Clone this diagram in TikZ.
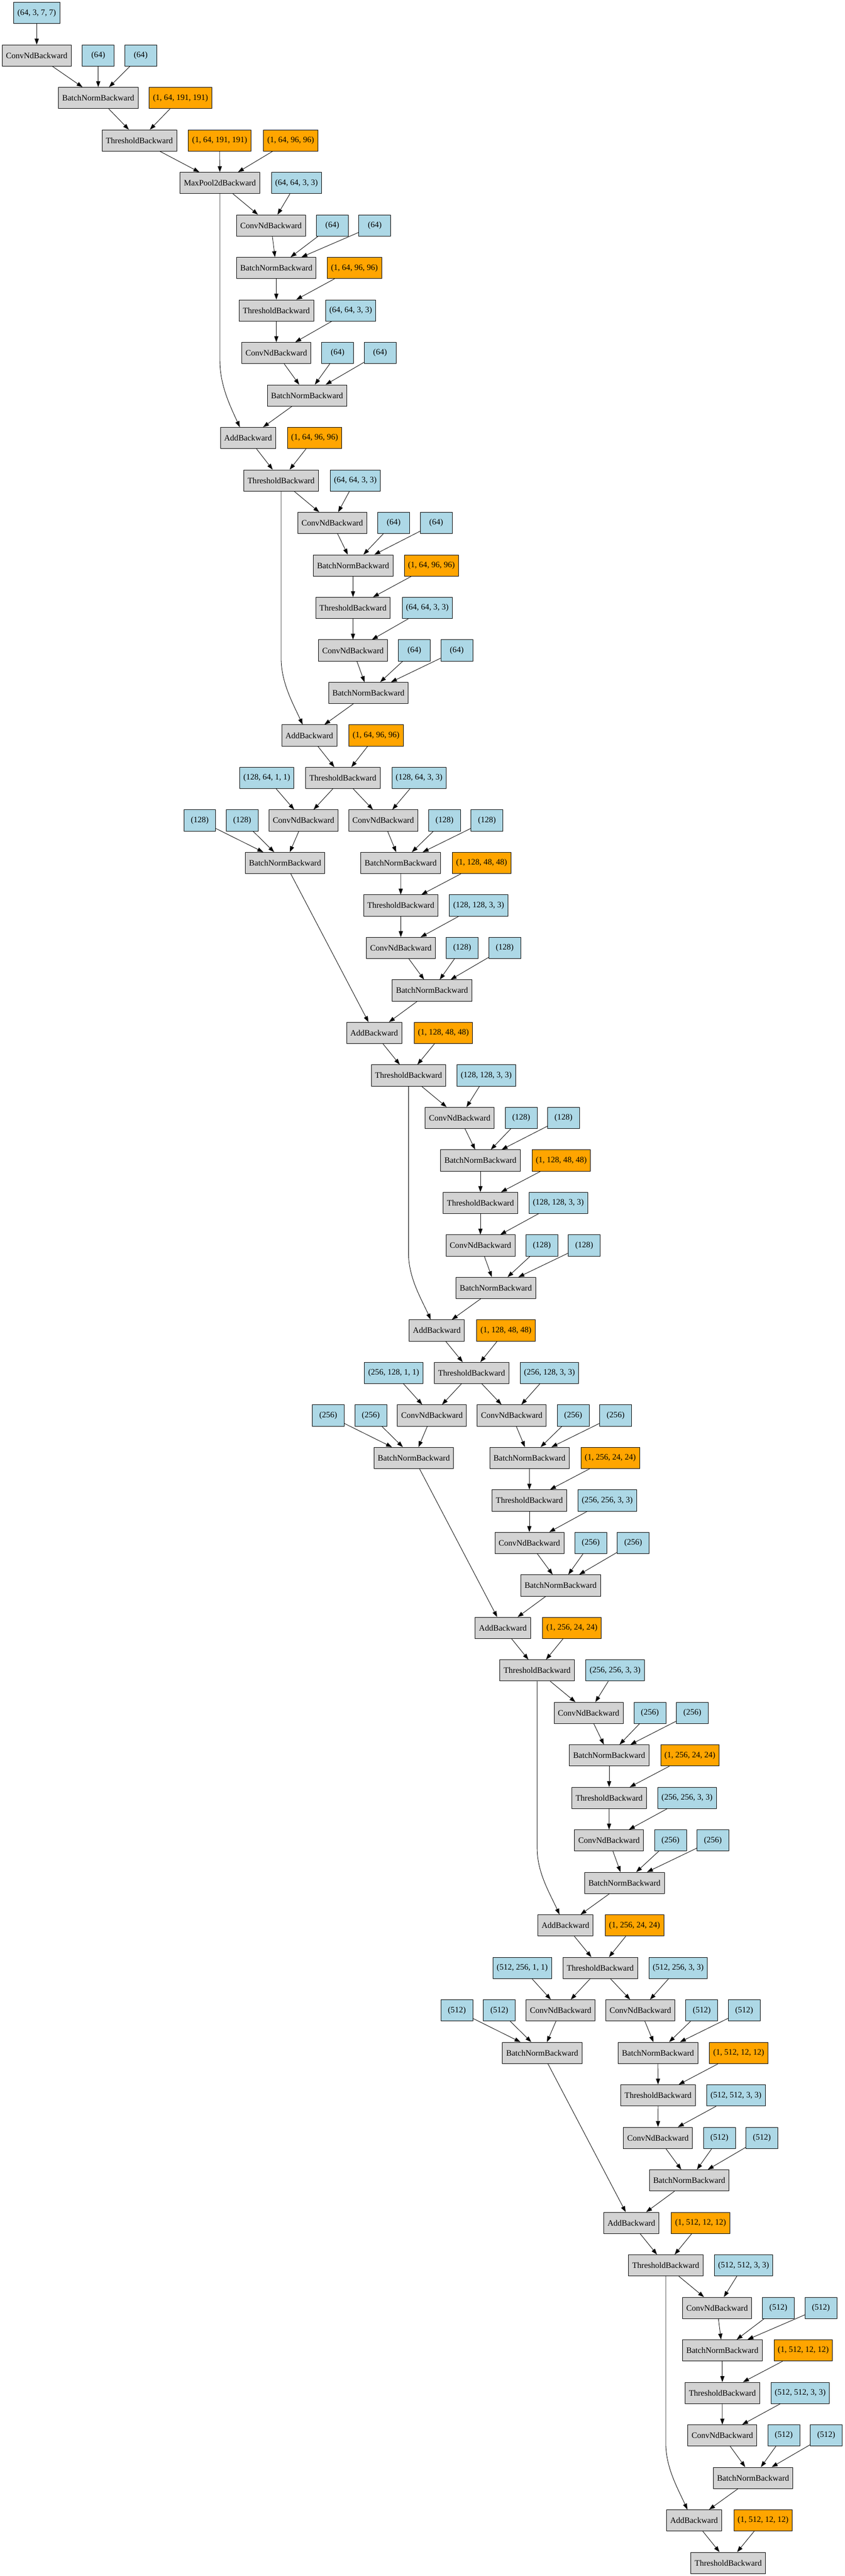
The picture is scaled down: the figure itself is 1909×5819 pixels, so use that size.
\documentclass[tikz,border=0pt]{standalone}
\usepackage{fontspec}
\setmainfont{Liberation Serif}
\usetikzlibrary{arrows.meta,calc}
\definecolor{lgray}{HTML}{D3D3D3}
\definecolor{lblue}{HTML}{ADD8E6}
\definecolor{orng}{HTML}{FFA500}
\newcommand\rk[1]{29.33+96*#1}
\tikzset{
  gvbox/.style={draw=black, line width=0.75pt, rectangle, minimum width=54pt, minimum height=36pt, inner xsep=6.4pt, inner ysep=2pt, font=\fontsize{14}{16}\selectfont, text=black},
  gbox/.style={gvbox, fill=lgray},
  bbox/.style={gvbox, fill=lblue},
  obox/.style={gvbox, fill=orng},
  conn/.style={draw=black, line width=0.75pt, -{Triangle[length=10pt,width=7pt]}},
}
\begin{document}
\begin{tikzpicture}[x=0.75pt,y=-0.75pt]
\useasboundingbox (0,0) rectangle (1909,5819);
% ---------- stage 0 ----------
\node[bbox] (w0) at (83,\rk{0}) {(64, 3, 7, 7)};
\node[gbox] (c1) at (83,\rk{1}) {ConvNdBackward};
\node[bbox] (p1a) at (222,\rk{1}) {(64)};
\node[bbox] (p1b) at (318,\rk{1}) {(64)};
\node[gbox] (b2) at (222,\rk{2}) {BatchNormBackward};
\node[obox] (o2) at (408,\rk{2}) {(1, 64, 191, 191)};
\node[gbox] (t3) at (315,\rk{3}) {ThresholdBackward};
\node[obox] (o3a) at (496.5,\rk{3}) {(1, 64, 191, 191)};
\node[obox] (o3b) at (657,\rk{3}) {(1, 64, 96, 96)};
\node[gbox] (mp) at (497,\rk{4}) {MaxPool2dBackward};
\node[bbox] (w4) at (670,\rk{4}) {(64, 64, 3, 3)};
% ---------- stage 1, block 1 ----------
\node[gbox] (c5) at (612.5,\rk{5}) {ConvNdBackward};
\node[bbox] (p5a) at (751,\rk{5}) {(64)};
\node[bbox] (p5b) at (847,\rk{5}) {(64)};
\node[gbox] (b6) at (624.5,\rk{6}) {BatchNormBackward};
\node[obox] (o6) at (801,\rk{6}) {(1, 64, 96, 96)};
\node[gbox] (t7) at (624.5,\rk{7}) {ThresholdBackward};
\node[bbox] (w7) at (792.6,\rk{7}) {(64, 64, 3, 3)};
\node[gbox] (c8) at (624.5,\rk{8}) {ConvNdBackward};
\node[bbox] (p8a) at (763,\rk{8}) {(64)};
\node[bbox] (p8b) at (859,\rk{8}) {(64)};
\node[gbox] (b9) at (694,\rk{9}) {BatchNormBackward};
\node[gbox] (a10) at (560.6,\rk{10}) {AddBackward};
\node[obox] (o10) at (711,\rk{10}) {(1, 64, 96, 96)};
% ---------- stage 1, block 2 ----------
\node[gbox] (t11) at (635.4,\rk{11}) {ThresholdBackward};
\node[bbox] (w11) at (803,\rk{11}) {(64, 64, 3, 3)};
\node[gbox] (c12) at (751,\rk{12}) {ConvNdBackward};
\node[bbox] (p12a) at (889.7,\rk{12}) {(64)};
\node[bbox] (p12b) at (985.8,\rk{12}) {(64)};
\node[gbox] (b13) at (798,\rk{13}) {BatchNormBackward};
\node[obox] (o13) at (975,\rk{13}) {(1, 64, 96, 96)};
\node[gbox] (t14) at (797.8,\rk{14}) {ThresholdBackward};
\node[bbox] (w14) at (965.6,\rk{14}) {(64, 64, 3, 3)};
\node[gbox] (c15) at (797.8,\rk{15}) {ConvNdBackward};
\node[bbox] (p15a) at (936.5,\rk{15}) {(64)};
\node[bbox] (p15b) at (1032.3,\rk{15}) {(64)};
\node[gbox] (b16) at (832.7,\rk{16}) {BatchNormBackward};
\node[gbox] (a17) at (699,\rk{17}) {AddBackward};
\node[obox] (o17) at (850,\rk{17}) {(1, 64, 96, 96)};
% ---------- stage 2, block 1 ----------
\node[bbox] (d18) at (603,\rk{18}) {(128, 64, 1, 1)};
\node[gbox] (t18) at (775,\rk{18}) {ThresholdBackward};
\node[bbox] (w18) at (947.2,\rk{18}) {(128, 64, 3, 3)};
\node[bbox] (q19a) at (451.4,\rk{19}) {(128)};
\node[bbox] (q19b) at (547.4,\rk{19}) {(128)};
\node[gbox] (c19a) at (686,\rk{19}) {ConvNdBackward};
\node[gbox] (c19b) at (866,\rk{19}) {ConvNdBackward};
\node[bbox] (q19c) at (1004.7,\rk{19}) {(128)};
\node[bbox] (q19d) at (1100.6,\rk{19}) {(128)};
\node[gbox] (b20a) at (644.3,\rk{20}) {BatchNormBackward};
\node[gbox] (b20b) at (905.6,\rk{20}) {BatchNormBackward};
\node[obox] (o20) at (1088.4,\rk{20}) {(1, 128, 48, 48)};
\node[gbox] (t21) at (905.8,\rk{21}) {ThresholdBackward};
\node[bbox] (w21) at (1081.8,\rk{21}) {(128, 128, 3, 3)};
\node[gbox] (c22) at (906,\rk{22}) {ConvNdBackward};
\node[bbox] (q22a) at (1044.5,\rk{22}) {(128)};
\node[bbox] (q22b) at (1140.7,\rk{22}) {(128)};
\node[gbox] (b23) at (976.5,\rk{23}) {BatchNormBackward};
\node[gbox] (a24) at (845.7,\rk{24}) {AddBackward};
\node[obox] (o24) at (1002,\rk{24}) {(1, 128, 48, 48)};
% ---------- stage 2, block 2 ----------
\node[gbox] (t25) at (923.3,\rk{25}) {ThresholdBackward};
\node[bbox] (w25) at (1099,\rk{25}) {(128, 128, 3, 3)};
\node[gbox] (c26) at (1039,\rk{26}) {ConvNdBackward};
\node[bbox] (q26a) at (1178,\rk{26}) {(128)};
\node[bbox] (q26b) at (1273.5,\rk{26}) {(128)};
\node[gbox] (b27) at (1085.8,\rk{27}) {BatchNormBackward};
\node[obox] (o27) at (1268.5,\rk{27}) {(1, 128, 48, 48)};
\node[gbox] (t28) at (1085.8,\rk{28}) {ThresholdBackward};
\node[bbox] (w28) at (1261.8,\rk{28}) {(128, 128, 3, 3)};
\node[gbox] (c29) at (1085.8,\rk{29}) {ConvNdBackward};
\node[bbox] (q29a) at (1224.6,\rk{29}) {(128)};
\node[bbox] (q29b) at (1320.3,\rk{29}) {(128)};
\node[gbox] (b30) at (1120.6,\rk{30}) {BatchNormBackward};
\node[gbox] (a31) at (987.2,\rk{31}) {AddBackward};
\node[obox] (o31) at (1143.4,\rk{31}) {(1, 128, 48, 48)};
% ---------- stage 3, block 1 ----------
\node[bbox] (d32) at (889.8,\rk{32}) {(256, 128, 1, 1)};
\node[gbox] (t32) at (1065.8,\rk{32}) {ThresholdBackward};
\node[bbox] (w32) at (1241.9,\rk{32}) {(256, 128, 3, 3)};
\node[bbox] (s33a) at (741.8,\rk{33}) {(256)};
\node[bbox] (s33b) at (838,\rk{33}) {(256)};
\node[gbox] (c33a) at (976.3,\rk{33}) {ConvNdBackward};
\node[gbox] (c33b) at (1156.6,\rk{33}) {ConvNdBackward};
\node[bbox] (s33c) at (1295.4,\rk{33}) {(256)};
\node[bbox] (s33d) at (1391.3,\rk{33}) {(256)};
\node[gbox] (b34a) at (935.3,\rk{34}) {BatchNormBackward};
\node[gbox] (b34b) at (1196.6,\rk{34}) {BatchNormBackward};
\node[obox] (o34) at (1379.3,\rk{34}) {(1, 256, 24, 24)};
\node[gbox] (t35) at (1196.4,\rk{35}) {ThresholdBackward};
\node[bbox] (w35) at (1372.5,\rk{35}) {(256, 256, 3, 3)};
\node[gbox] (c36) at (1196.4,\rk{36}) {ConvNdBackward};
\node[bbox] (s36a) at (1335.2,\rk{36}) {(256)};
\node[bbox] (s36b) at (1431.1,\rk{36}) {(256)};
\node[gbox] (b37) at (1267,\rk{37}) {BatchNormBackward};
\node[gbox] (a38) at (1136.5,\rk{38}) {AddBackward};
\node[obox] (o38) at (1292.6,\rk{38}) {(1, 256, 24, 24)};
% ---------- stage 3, block 2 ----------
\node[gbox] (t39) at (1214,\rk{39}) {ThresholdBackward};
\node[bbox] (w39) at (1390.1,\rk{39}) {(256, 256, 3, 3)};
\node[gbox] (c40) at (1330.2,\rk{40}) {ConvNdBackward};
\node[bbox] (s40a) at (1468.8,\rk{40}) {(256)};
\node[bbox] (s40b) at (1564.8,\rk{40}) {(256)};
\node[gbox] (b41) at (1376.7,\rk{41}) {BatchNormBackward};
\node[obox] (o41) at (1559.2,\rk{41}) {(1, 256, 24, 24)};
\node[gbox] (t42) at (1376.7,\rk{42}) {ThresholdBackward};
\node[bbox] (w42) at (1552.7,\rk{42}) {(256, 256, 3, 3)};
\node[gbox] (c43) at (1376.5,\rk{43}) {ConvNdBackward};
\node[bbox] (s43a) at (1515.3,\rk{43}) {(256)};
\node[bbox] (s43b) at (1611.2,\rk{43}) {(256)};
\node[gbox] (b44) at (1411.3,\rk{44}) {BatchNormBackward};
\node[gbox] (a45) at (1278,\rk{45}) {AddBackward};
\node[obox] (o45) at (1434,\rk{45}) {(1, 256, 24, 24)};
% ---------- stage 4, block 1 ----------
\node[bbox] (d46) at (1180.3,\rk{46}) {(512, 256, 1, 1)};
\node[gbox] (t46) at (1356.6,\rk{46}) {ThresholdBackward};
\node[bbox] (w46) at (1532.8,\rk{46}) {(512, 256, 3, 3)};
\node[bbox] (e47a) at (1032.6,\rk{47}) {(512)};
\node[bbox] (e47b) at (1128.5,\rk{47}) {(512)};
\node[gbox] (c47a) at (1267.1,\rk{47}) {ConvNdBackward};
\node[gbox] (c47b) at (1447.3,\rk{47}) {ConvNdBackward};
\node[bbox] (e47c) at (1586,\rk{47}) {(512)};
\node[bbox] (e47d) at (1681.9,\rk{47}) {(512)};
\node[gbox] (b48a) at (1225.5,\rk{48}) {BatchNormBackward};
\node[gbox] (b48b) at (1487,\rk{48}) {BatchNormBackward};
\node[obox] (o48) at (1669.6,\rk{48}) {(1, 512, 12, 12)};
\node[gbox] (t49) at (1487.3,\rk{49}) {ThresholdBackward};
\node[bbox] (w49) at (1663.3,\rk{49}) {(512, 512, 3, 3)};
\node[gbox] (c50) at (1487.1,\rk{50}) {ConvNdBackward};
\node[bbox] (e50a) at (1625.9,\rk{50}) {(512)};
\node[bbox] (e50b) at (1721.9,\rk{50}) {(512)};
\node[gbox] (b51) at (1557.7,\rk{51}) {BatchNormBackward};
\node[gbox] (a52) at (1427,\rk{52}) {AddBackward};
\node[obox] (o52) at (1583.3,\rk{52}) {(1, 512, 12, 12)};
% ---------- stage 4, block 2 ----------
\node[gbox] (t53) at (1504.7,\rk{53}) {ThresholdBackward};
\node[bbox] (w53) at (1680.6,\rk{53}) {(512, 512, 3, 3)};
\node[gbox] (c54) at (1620.7,\rk{54}) {ConvNdBackward};
\node[bbox] (e54a) at (1759.2,\rk{54}) {(512)};
\node[bbox] (e54b) at (1855.3,\rk{54}) {(512)};
\node[gbox] (b55) at (1632.6,\rk{55}) {BatchNormBackward};
\node[obox] (o55) at (1815.4,\rk{55}) {(1, 512, 12, 12)};
\node[gbox] (t56) at (1632.6,\rk{56}) {ThresholdBackward};
\node[bbox] (w56) at (1808.6,\rk{56}) {(512, 512, 3, 3)};
\node[gbox] (c57) at (1632.5,\rk{57}) {ConvNdBackward};
\node[bbox] (e57a) at (1771.4,\rk{57}) {(512)};
\node[bbox] (e57b) at (1867.3,\rk{57}) {(512)};
\node[gbox] (b58) at (1702,\rk{58}) {BatchNormBackward};
\node[gbox] (a59) at (1568.6,\rk{59}) {AddBackward};
\node[obox] (o59) at (1724.6,\rk{59}) {(1, 512, 12, 12)};
\node[gbox] (t60) at (1645.9,\rk{60}) {ThresholdBackward};

% ================= edges =================
\foreach \s/\t in {w0/c1, c1/b2, p1a/b2, p1b/b2, b2/t3, o2/t3, t3/mp, o3a/mp, o3b/mp,
  mp/c5, w4/c5, c5/b6, p5a/b6, p5b/b6, b6/t7, o6/t7, t7/c8, w7/c8, c8/b9, p8a/b9, p8b/b9,
  b9/a10, a10/t11, o10/t11, t11/c12, w11/c12, c12/b13, p12a/b13, p12b/b13, b13/t14, o13/t14,
  t14/c15, w14/c15, c15/b16, p15a/b16, p15b/b16, b16/a17, a17/t18, o17/t18,
  d18/c19a, t18/c19a, t18/c19b, w18/c19b, q19a/b20a, q19b/b20a, c19a/b20a,
  c19b/b20b, q19c/b20b, q19d/b20b, b20b/t21, o20/t21, t21/c22, w21/c22,
  c22/b23, q22a/b23, q22b/b23, b23/a24, b20a/a24, a24/t25, o24/t25,
  t25/c26, w25/c26, c26/b27, q26a/b27, q26b/b27, b27/t28, o27/t28, t28/c29, w28/c29,
  c29/b30, q29a/b30, q29b/b30, b30/a31, a31/t32, o31/t32,
  d32/c33a, t32/c33a, t32/c33b, w32/c33b, s33a/b34a, s33b/b34a, c33a/b34a,
  c33b/b34b, s33c/b34b, s33d/b34b, b34b/t35, o34/t35, t35/c36, w35/c36,
  c36/b37, s36a/b37, s36b/b37, b37/a38, b34a/a38, a38/t39, o38/t39,
  t39/c40, w39/c40, c40/b41, s40a/b41, s40b/b41, b41/t42, o41/t42, t42/c43, w42/c43,
  c43/b44, s43a/b44, s43b/b44, b44/a45, a45/t46, o45/t46,
  d46/c47a, t46/c47a, t46/c47b, w46/c47b, e47a/b48a, e47b/b48a, c47a/b48a,
  c47b/b48b, e47c/b48b, e47d/b48b, b48b/t49, o48/t49, t49/c50, w49/c50,
  c50/b51, e50a/b51, e50b/b51, b51/a52, b48a/a52, a52/t53, o52/t53,
  t53/c54, w53/c54, c54/b55, e54a/b55, e54b/b55, b55/t56, o55/t56, t56/c57, w56/c57,
  c57/b58, e57a/b58, e57b/b58, b58/a59, a59/t60, o59/t60}
  \draw[conn] (\s) -- (\t);

% skip connections (identity shortcuts)
\draw[conn] (mp.south) -- ($(mp.south |- a10.north)+(0,-150)$)
  .. controls +(0,55) and +(-22,-48) .. ($(a10.north)+(-18.6,0)$);
\draw[conn] (t11.south) -- ($(t11.south |- a17.north)+(0,-150)$)
  .. controls +(0,55) and +(-22,-48) .. ($(a17.north)+(-15,0)$);
\draw[conn] (t25.south) -- ($(t25.south |- a31.north)+(0,-150)$)
  .. controls +(0,55) and +(-22,-48) .. ($(a31.north)+(-13.7,0)$);
\draw[conn] (t39.south) -- ($(t39.south |- a45.north)+(0,-150)$)
  .. controls +(0,55) and +(-22,-48) .. ($(a45.north)+(-13.4,0)$);
\draw[conn] (t53.south) -- ($(t53.south |- a59.north)+(0,-150)$)
  .. controls +(0,55) and +(-22,-48) .. ($(a59.north)+(-15,0)$);
\end{tikzpicture}
\end{document}
